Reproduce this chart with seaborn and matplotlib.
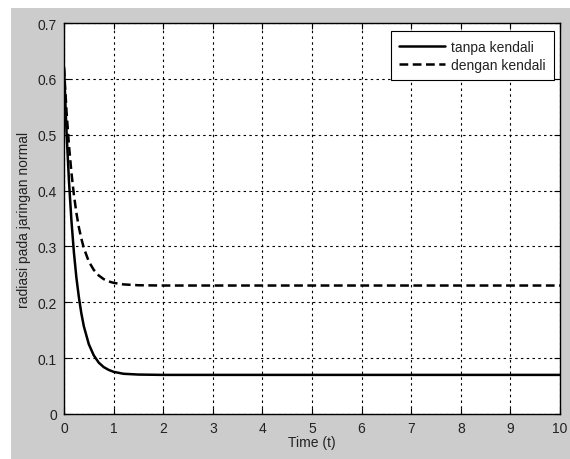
import matplotlib
matplotlib.use("Agg")
import matplotlib.pyplot as plt
import matplotlib.patches as mpatches
import seaborn as sns
import pandas as pd

# Data
time_t = [0.0, 0.05, 0.1, 0.15, 0.2, 0.25, 0.3, 0.35, 0.4, 0.5, 0.6, 0.7,
          0.8, 0.9, 1.0, 1.2, 1.5, 2.0, 10.0]
tanpa_kendali = [0.620, 0.507, 0.417, 0.346, 0.289, 0.244, 0.209, 0.180, 0.157,
                 0.125, 0.105, 0.092, 0.084, 0.079, 0.0755, 0.072, 0.0706, 0.070, 0.070]
dengan_kendali = [0.620, 0.543, 0.481, 0.432, 0.392, 0.360, 0.334, 0.314, 0.297,
                  0.273, 0.258, 0.248, 0.2415, 0.2374, 0.2348, 0.232, 0.2305, 0.230, 0.230]
series_names = ["tanpa kendali", "dengan kendali"]
x_ticks = [0, 1, 2, 3, 4, 5, 6, 7, 8, 9, 10]
y_ticks = [0, 0.1, 0.2, 0.3, 0.4, 0.5, 0.6, 0.7]
y_tick_labels = ["0", "0.1", "0.2", "0.3", "0.4", "0.5", "0.6", "0.7"]

df = pd.DataFrame({
    "t": time_t * 2,
    "value": tanpa_kendali + dengan_kendali,
    "series": [series_names[0]] * len(time_t) + [series_names[1]] * len(time_t),
})

sns.set_style("white")
plt.rcParams["font.family"] = ["Liberation Sans", "DejaVu Sans"]

W, H = 570, 460
fig = plt.figure(figsize=(W / 100, H / 100), dpi=100, facecolor="white")
# gray figure background with small white border at top/left
fig.patches.append(mpatches.Rectangle((11 / W, 0), 1 - 11 / W, 1 - 9 / H,
                                      transform=fig.transFigure, facecolor="#cccccc",
                                      edgecolor="none", zorder=-10))

left, right, top, bottom = 64, 560, 24, 415
ax = fig.add_axes([left / W, 1 - bottom / H, (right - left) / W, (bottom - top) / H])
ax.set_facecolor("white")

sns.lineplot(data=df, x="t", y="value", hue="series", style="series",
             palette=["black", "black"], dashes={series_names[0]: "", series_names[1]: (3.5, 1.8)},
             linewidth=1.8, ax=ax, sort=False)

ax.set_xlim(0, 10)
ax.set_ylim(0, 0.7)
ax.set_xticks(x_ticks)
ax.set_yticks(y_ticks)
ax.set_yticklabels(y_tick_labels)
ax.grid(True, color="black", linestyle=(0, (2.2, 3.0)), linewidth=0.8)
ax.set_axisbelow(True)
ax.tick_params(direction="in", length=4, width=0.8, colors="black",
               labelcolor="#222222", labelsize=10, top=True, right=True,
               bottom=True, left=True, pad=5)
for s in ax.spines.values():
    s.set_color("black")
    s.set_linewidth(1.0)

ax.set_xlabel("Time (t)", fontsize=10, color="#222222", labelpad=0)
ax.set_ylabel("radiasi pada jaringan normal", fontsize=10, color="#222222", labelpad=5)

leg = ax.legend(loc="upper right", frameon=True, fancybox=False, fontsize=10,
                handlelength=3.3, handletextpad=0.4, borderaxespad=0.0,
                bbox_to_anchor=(554 / W, 1 - 32 / H), bbox_transform=fig.transFigure,
                edgecolor="black", framealpha=1, labelspacing=0.28, borderpad=0.62)
leg.get_frame().set_linewidth(0.8)
for t in leg.get_texts():
    t.set_color("#222222")

fig.savefig("out.png", dpi=100, facecolor=fig.get_facecolor())
